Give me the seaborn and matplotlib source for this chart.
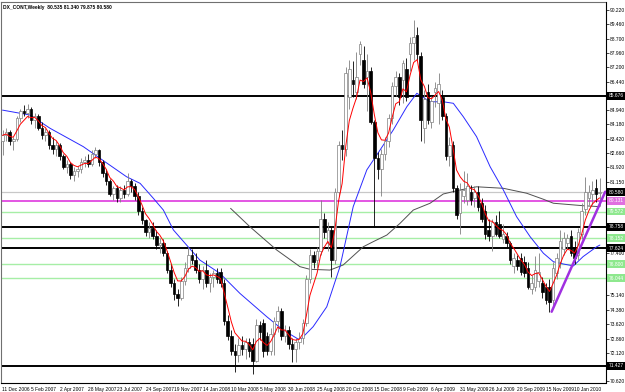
import numpy as np
import pandas as pd
import matplotlib
matplotlib.use("Agg")
import matplotlib.pyplot as plt
import seaborn as sns

# ---------------- data ----------------
opens = [83.3, 83.6, 83.8, 83.3, 83.4, 84.5, 84.9, 84.8, 85.0, 84.4,
         84.6, 84.0, 83.6, 83.8, 83.1, 82.9, 83.1, 82.5, 81.95, 82.1,
         81.5, 81.7, 81.8, 82.2, 82.3, 82.1, 82.6, 82.8, 82.2, 81.6,
         81.2, 80.5, 80.8, 80.3, 80.7, 80.5, 81.2, 80.9, 80.4, 79.6,
         79.1, 78.5, 78.7, 78.3, 77.8, 77.9, 77.4, 76.5, 75.8, 75.2,
         75.0, 75.9, 76.6, 77.3, 77.0, 76.5, 76.0, 76.5, 75.8, 76.1,
         76.3, 76.4, 75.8, 73.8, 73.0, 72.2, 72.0, 72.5, 72.3, 72.7,
         72.6, 71.7, 73.6, 73.7, 73.0, 72.2, 73.1, 73.8, 74.3, 73.0,
         73.3, 72.6, 72.3, 72.7, 72.9, 73.7, 76.0, 77.3, 77.0, 77.5,
         79.2, 77.9, 78.6, 77.0, 80.6, 83.1, 82.9, 85.6, 86.5, 85.9,
         87.9, 87.6, 86.7, 87.0, 84.3, 82.4, 81.8, 82.6, 83.3, 84.5,
         86.2, 86.7, 86.5, 87.1, 87.9, 88.5, 88.9, 87.8, 84.0, 85.9,
         84.3, 85.9, 85.3, 85.6, 84.6, 82.5, 83.1, 80.8, 79.5, 80.4,
         80.2, 80.6, 80.3, 80.6, 80.0, 79.6, 78.6, 78.3, 79.0, 78.9,
         78.1, 78.3, 77.9, 76.7, 77.0, 77.1, 76.9, 76.6, 75.5, 75.6,
         75.9, 75.8, 75.6, 75.6, 74.9, 76.3, 76.9, 77.6, 77.9, 78.3,
         77.7, 77.3, 78.4, 79.7, 80.3, 80.5, 80.8, 80.535]
highs = [83.9, 84.0, 83.9, 83.5, 84.6, 85.0, 85.2, 85.25, 85.1, 84.8,
         84.7, 84.3, 84.0, 83.9, 83.5, 83.3, 83.2, 82.6, 82.3, 82.2,
         81.9, 82.0, 82.4, 82.5, 82.6, 82.8, 83.0, 82.9, 82.3, 81.8,
         81.3, 80.9, 81.0, 80.9, 81.0, 81.6, 81.3, 81.1, 80.6, 79.8,
         79.2, 79.0, 79.0, 78.6, 78.2, 78.1, 77.5, 76.8, 76.0, 75.5,
         76.1, 76.9, 77.7, 77.6, 77.4, 76.8, 76.7, 77.0, 76.3, 76.5,
         76.6, 76.6, 76.0, 74.1, 73.3, 72.6, 72.9, 73.0, 72.9, 72.9,
         72.9, 73.9, 73.8, 73.9, 73.2, 73.4, 74.0, 74.6, 74.5, 73.6,
         73.5, 72.9, 72.9, 73.2, 73.9, 76.2, 77.6, 77.5, 77.7, 80.2,
         79.5, 79.0, 78.8, 80.8, 83.3, 83.9, 87.2, 87.6, 87.5, 88.0,
         88.6, 88.3, 87.9, 87.2, 84.4, 82.7, 82.9, 83.5, 84.7, 86.4,
         87.0, 86.9, 87.6, 87.7, 88.8, 89.7, 89.3, 88.0, 86.0, 86.3,
         85.7, 86.4, 86.9, 86.0, 84.8, 83.5, 83.3, 81.0, 81.1, 81.7,
         81.6, 81.0, 80.9, 80.9, 80.3, 79.9, 79.2, 79.2, 79.4, 79.6,
         78.9, 78.5, 78.0, 77.4, 77.3, 77.4, 77.2, 76.9, 76.2, 77.2,
         77.4, 76.1, 75.8, 76.0, 76.9, 77.4, 78.6, 78.5, 78.4, 78.6,
         78.0, 78.7, 80.0, 81.4, 81.0, 81.2, 81.3, 81.34]
lows = [82.55, 83.3, 83.1, 82.8, 83.3, 84.3, 84.6, 84.5, 84.2, 84.0,
        83.9, 83.4, 83.3, 82.9, 82.6, 82.5, 82.3, 81.8, 81.6, 81.3,
        81.2, 81.4, 81.6, 81.9, 81.9, 82.0, 82.4, 82.0, 81.4, 81.0,
        80.4, 80.2, 80.1, 80.1, 80.3, 80.4, 80.6, 80.2, 79.4, 78.9,
        78.3, 78.2, 78.1, 77.6, 77.4, 77.2, 76.3, 75.6, 74.9, 74.6,
        74.9, 75.7, 76.4, 76.8, 76.3, 75.8, 75.5, 75.6, 75.3, 75.6,
        75.8, 75.6, 73.6, 72.8, 72.0, 71.1, 71.6, 72.0, 71.8, 71.9,
        71.0, 71.6, 72.8, 71.9, 72.0, 72.0, 72.0, 73.2, 72.8, 72.7,
        72.3, 71.6, 71.6, 72.3, 72.6, 73.5, 75.8, 76.6, 76.6, 77.3,
        78.2, 77.5, 76.1, 76.8, 80.4, 82.3, 82.5, 85.0, 85.6, 85.5,
        87.3, 86.1, 84.9, 84.2, 78.75, 81.3, 80.4, 82.3, 83.0, 84.2,
        85.7, 85.2, 85.3, 85.4, 87.0, 87.6, 87.6, 83.3, 83.2, 84.2,
        84.0, 85.1, 84.2, 84.4, 82.3, 82.0, 80.6, 79.2, 78.4, 80.0,
        79.9, 79.9, 79.8, 79.6, 79.0, 78.1, 78.0, 77.5, 78.3, 78.2,
        77.9, 77.7, 76.8, 76.3, 76.5, 76.2, 76.1, 75.5, 75.2, 75.4,
        75.6, 75.0, 74.7, 74.28, 74.6, 76.0, 76.6, 77.3, 77.6, 77.2,
        76.8, 77.0, 78.1, 79.4, 79.9, 79.9, 80.1, 79.875]
closes = [83.6, 83.8, 83.3, 83.4, 84.5, 84.9, 84.8, 85.0, 84.4, 84.6,
          84.0, 83.6, 83.8, 83.1, 82.9, 83.1, 82.5, 81.95, 82.1, 81.5,
          81.7, 81.8, 82.2, 82.3, 82.1, 82.6, 82.8, 82.2, 81.6, 81.2,
          80.5, 80.8, 80.3, 80.7, 80.5, 81.2, 80.9, 80.4, 79.6, 79.1,
          78.5, 78.7, 78.3, 77.8, 77.9, 77.4, 76.5, 75.8, 75.2, 75.0,
          75.9, 76.6, 77.3, 77.0, 76.5, 76.0, 76.5, 75.8, 76.1, 76.3,
          76.0, 75.8, 73.8, 73.0, 72.2, 72.0, 72.5, 72.3, 72.7, 72.2,
          71.7, 73.6, 73.2, 72.2, 72.2, 73.1, 73.8, 74.3, 73.0, 73.3,
          72.6, 72.3, 72.7, 72.9, 73.7, 76.0, 77.3, 76.9, 77.5, 79.2,
          78.5, 78.6, 77.0, 80.6, 83.1, 82.9, 86.9, 87.1, 86.3, 86.7,
          88.4, 86.3, 87.0, 84.3, 82.4, 81.8, 82.6, 83.3, 84.5, 86.2,
          86.7, 85.6, 87.4, 85.6, 88.5, 88.8, 87.9, 84.4, 85.5, 84.4,
          85.4, 86.1, 86.3, 84.6, 82.5, 83.1, 80.8, 79.4, 80.7, 80.7,
          80.9, 80.2, 80.6, 79.8, 79.2, 78.4, 78.3, 79.0, 78.4, 78.3,
          78.4, 77.9, 77.0, 77.1, 76.7, 76.4, 76.3, 75.6, 75.8, 76.5,
          76.4, 75.3, 74.9, 74.8, 76.6, 77.1, 78.0, 78.2, 78.2, 77.4,
          77.1, 78.5, 79.6, 80.6, 80.6, 80.7, 80.5, 80.58]

# blue moving average (bar index, price)
mid_ma_bars = [0, 7.7, 13.3, 22.6, 27.3, 34.7, 38.5, 42.2, 45.0, 47.8, 51.5, 55.2, 58.0,
               60.8, 66.4, 73.9, 78.5, 83.2, 86.9, 90.7, 94.4, 98.1, 101.9, 105.6, 109.3,
               113.1, 115.9, 119.6, 123.3, 126.1, 128.9, 132.6, 136.4, 140.1, 143.8,
               147.6, 151.3, 154.1, 156.9, 159.7, 162.4, 166.2, 167.1]
mid_ma_values = [84.93, 84.67, 83.97, 83.00, 82.38, 81.41, 81.06, 80.27, 79.65, 78.60,
                 77.80, 77.01, 76.66, 76.31, 75.25, 74.02, 73.31, 72.78, 73.49, 74.54,
                 76.66, 79.83, 81.77, 82.82, 83.88, 85.11, 85.82, 85.37, 85.37, 85.29,
                 84.58, 83.53, 81.94, 80.71, 79.30, 78.24, 77.37, 76.92, 76.80, 76.70,
                 77.19, 77.71, 77.80]

# dark grey long moving average (bar index, price)
slow_ma_bars = [63.8, 69.2, 76.7, 83.2, 86.0, 91.6, 95.3, 100.9, 103.7, 107.5, 111.2,
                114.9, 119.6, 123.3, 128.0, 132.6, 140.1, 146.6, 151.3, 154.1, 162.4, 167.1]
slow_ma_values = [79.74, 78.77, 77.54, 76.66, 76.52, 76.48, 76.75, 77.71, 77.98, 78.33,
                  78.95, 79.65, 80.01, 80.50, 80.71, 80.88, 80.80, 80.54, 80.22, 80.01,
                  79.88, 79.83]

date_labels = ["11 Dec 2006", "5 Feb 2007", "2 Apr 2007", "28 May 2007", "23 Jul 2007",
               "24 Sep 2007", "19 Nov 2007", "14 Jan 2008", "10 Mar 2008", "5 May 2008",
               "30 Jun 2008", "25 Aug 2008", "20 Oct 2008", "15 Dec 2008", "9 Feb 2009",
               "6 Apr 2009", "31 May 2009", "26 Jul 2009", "20 Sep 2009", "15 Nov 2009",
               "10 Jan 2010"]
label_step = 8

price_ticks = [90.22, 89.46, 88.70, 87.96, 87.20, 86.44, 84.94, 84.18, 83.42, 82.66,
               81.92, 81.15, 77.40, 75.14, 74.38, 73.62, 72.86, 72.12, 70.62]
price_tick_labels = ["90.220", "89.460", "88.700", "87.960", "87.200", "86.440", "84.940",
                     "84.180", "83.420", "82.660", "81.920", "81.150", "77.400", "75.140",
                     "74.380", "73.620", "72.860", "72.120", "70.620"]

level_values = [85.676, 80.580, 80.131, 79.572, 78.758, 78.152, 77.624, 76.800, 76.044, 71.427]
level_labels = ["85.676", "80.580", "80.131", "79.572", "78.758", "78.152", "77.624",
                "76.800", "76.044", "71.427"]
level_kinds = ["black", "bid", "magenta", "green", "black", "green", "black",
               "green", "green", "black"]

trend_bars = [153.6, 168.6]
trend_prices = [74.28, 80.62]

title_text = "DX_CONT,Weekly  80.535 81.340 79.875 80.580"

# ---------------- styling ----------------
sns.set_theme(style="white")
plt.rcParams["font.family"] = ["Liberation Sans", "DejaVu Sans"]

line_style = {
    "black": dict(color="#000000", lw=1.4),
    "bid": dict(color="#c8c8c8", lw=0.9),
    "magenta": dict(color="#e048e0", lw=1.3),
    "green": dict(color="#a6eea6", lw=1.0),
}
box_color = {"black": "#000000", "bid": "#000000", "magenta": "#e070e0", "green": "#8ee88e"}

W, H = 625, 392
fig = plt.figure(figsize=(W / 100, H / 100), dpi=100)
fig.patch.set_facecolor("white")
ax_l, ax_r, ax_t, ax_b = 1, 605.5, 2, 383
ax = fig.add_axes([ax_l / W, (H - ax_b) / H, (ax_r - ax_l) / W, (ax_b - ax_t) / H])
ax.set_facecolor("white")

n = len(closes)
df = pd.DataFrame({"bar": np.arange(n), "open": opens, "high": highs,
                   "low": lows, "close": closes})
df["ema_fast"] = df["close"].ewm(span=5, adjust=False).mean()
mid_df = pd.DataFrame({"bar": mid_ma_bars, "value": mid_ma_values})
slow_df = pd.DataFrame({"bar": slow_ma_bars, "value": slow_ma_values})

# horizontal levels
for v, k in zip(level_values, level_kinds):
    ax.axhline(v, zorder=1, **line_style[k])

# moving averages via seaborn
sns.lineplot(data=slow_df, x="bar", y="value", color="#505050", lw=0.7, ax=ax, zorder=2)
sns.lineplot(data=mid_df, x="bar", y="value", color="#2a2aff", lw=0.7, ax=ax, zorder=2)

# candles
up = df["close"] >= df["open"]
wick_col = np.where(up, "#808080", "#000000")
ax.vlines(df["bar"], df["low"], df["high"], colors=wick_col, lw=0.6, zorder=3)
body_bottom = np.minimum(df["open"], df["close"])
body_h = np.maximum(np.abs(df["close"] - df["open"]), 0.03)
ax.bar(df["bar"][up], body_h[up], bottom=body_bottom[up], width=0.72,
       color="white", edgecolor="#808080", linewidth=0.5, zorder=4)
ax.bar(df["bar"][~up], body_h[~up], bottom=body_bottom[~up], width=0.72,
       color="black", edgecolor="black", linewidth=0.5, zorder=4)

sns.lineplot(data=df, x="bar", y="ema_fast", color="#ff0000", lw=0.7, ax=ax, zorder=5)

# trend line
ax.plot(trend_bars, trend_prices, color="#a030e0", lw=1.8, zorder=6, solid_capstyle="round")

# axes limits
px_per_bar = 3.575
x0 = 2.5
ax.set_xlim((ax_l - x0) / px_per_bar, (ax_r - x0) / px_per_bar)
px_per_unit = 18.93
v_at_381 = 70.62
ax.set_ylim(v_at_381 - (ax_b - 381) / px_per_unit, v_at_381 + (381 - ax_t) / px_per_unit)

ax.set_xlabel("")
ax.set_ylabel("")
if ax.get_legend():
    ax.get_legend().remove()

FS = 3.5

# x ticks
xt = [i * label_step for i in range(len(date_labels))]
ax.set_xticks(xt)
ax.set_xticklabels(date_labels, fontsize=FS, ha="left")
ax.tick_params(axis="x", direction="out", length=2, width=0.5, pad=0.8, colors="#000000")

# y ticks on the right
ax.yaxis.tick_right()
ax.set_yticks(price_ticks)
ax.set_yticklabels(price_tick_labels, fontsize=FS)
ax.tick_params(axis="y", direction="out", length=2, width=0.5, pad=1.0, colors="#000000")

for name, s in ax.spines.items():
    s.set_visible(True)
    s.set_linewidth(0.8)
    s.set_color("#000000" if name in ("right", "bottom") else "#707070")

# highlighted level labels on the price scale
trans = ax.get_yaxis_transform()
for v, lab, k in zip(level_values, level_labels, level_kinds):
    ax.text(1.0 + 3.0 / (ax_r - ax_l), v, lab, transform=trans, fontsize=FS,
            color="white", va="center", ha="left", clip_on=False, zorder=10,
            bbox=dict(boxstyle="square,pad=0.3", fc=box_color[k], ec="none"))

fig.text(3 / W, 1 - 7 / H, title_text, fontsize=FS, fontweight="bold",
         va="center", ha="left", color="#000000")

fig.savefig("out.png", dpi=100, facecolor="white")
